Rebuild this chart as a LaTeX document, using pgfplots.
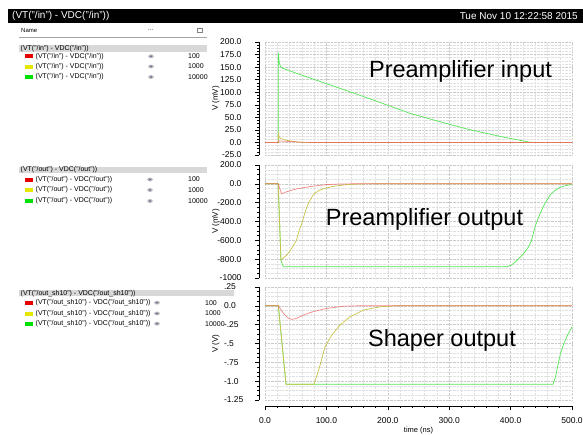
\documentclass[border=0pt]{standalone}
\usepackage{fontspec}
\setmainfont{Liberation Sans}
\usepackage{pgfplots}
\pgfplotsset{compat=1.18}
\definecolor{lred}{RGB}{240,95,95}
\definecolor{lyel}{RGB}{200,195,70}
\definecolor{lgrn}{RGB}{85,230,85}
\definecolor{bred}{RGB}{230,0,0}
\definecolor{byel}{RGB}{230,230,0}
\definecolor{bgrn}{RGB}{0,225,0}
\definecolor{hdr}{RGB}{216,216,216}
\pgfplotsset{
  panel/.style={scale only axis, width=307pt, height=113pt, xmin=0, xmax=500,
    axis y line*=left, axis x line*=bottom,
    axis line style={-, black, line width=0.6pt},
    axis y line shift=6pt,
    xtick={0,100,...,500}, minor x tick num=4,
    grid=both,
    major grid style={gray!42, densely dotted, line width=0.45pt},
    minor grid style={gray!24, densely dotted, line width=0.4pt},
    tick align=outside, major tick length=4pt, minor tick length=2pt,
    tick style={black, line width=0.5pt},
    yticklabel style={font=\fontsize{8.5}{9}\selectfont, xshift=-10pt},
    every axis y label/.style={at={(axis description cs:-0.16,0.5)}, rotate=90, anchor=center, font=\fontsize{8}{9}\selectfont},
  },
  noxaxis/.style={x axis line style={draw=none}, xticklabels={}, xtick style={draw=none}, minor x tick style={draw=none}},
}
\newcommand{\eye}[2]{\fill[gray!55] (#1,#2) ellipse (2.8 and 1.9); \fill[black!30!blue!30!gray] (#1,#2) circle (0.9);}
\newcommand{\row}[6]{% y, boxcolor, text, eyex, numx, num
  \fill[#2] (25,-#1+2) rectangle (33,-#1-2);
  \node[anchor=west, inner sep=0pt, font=\fontsize{7}{8}\selectfont] at (35.5,-#1) {#3};
  \eye{#4}{-#1}
  \node[anchor=west, inner sep=0pt, font=\fontsize{7}{8}\selectfont] at (#5,-#1) {#6};
}
\begin{document}
\begin{tikzpicture}[x=1pt,y=1pt]
\useasboundingbox (0,0) rectangle (583,-434);
\fill[white] (0,0) rectangle (583,-434);
% title bar
\fill[black] (8,-9) rectangle (583,-23);
\node[anchor=west, text=white, inner sep=0pt, font=\fontsize{10}{11}\selectfont] at (12,-16) {(VT("/in") - VDC("/in"))};
\node[anchor=east, text=white, inner sep=0pt, font=\fontsize{10}{11}\selectfont] at (578,-16) {Tue Nov 10 12:22:58 2015};
% list header
\node[anchor=west, inner sep=0pt, font=\fontsize{6}{7}\selectfont] at (21,-30) {Name};
\node[anchor=west, inner sep=0pt, font=\fontsize{6}{7}\selectfont] at (148,-30) {...};
\draw[gray, line width=0.5pt] (197,-28) rectangle (202,-32);
\draw[gray!70, line width=1.2pt] (19,-37.2) -- (207,-37.2);
% section 1
\fill[hdr] (19,-45) rectangle (207,-51.5);
\node[anchor=west, inner sep=0pt, font=\fontsize{7}{8}\selectfont] at (20.5,-48.3) {(VT("/in") - VDC("/in"))};
\row{56.3}{bred}{(VT("/in") - VDC("/in"))}{151}{188}{100}
\row{66.5}{byel}{(VT("/in") - VDC("/in"))}{151}{188}{1000}
\row{77}{bgrn}{(VT("/in") - VDC("/in"))}{151}{188}{10000}
% section 2
\fill[hdr] (19,-166.7) rectangle (207,-172.7);
\node[anchor=west, inner sep=0pt, font=\fontsize{7}{8}\selectfont] at (20.5,-169.8) {(VT("/out") - VDC("/out"))};
\row{179.5}{bred}{(VT("/out") - VDC("/out"))}{150}{188}{100}
\row{190}{byel}{(VT("/out") - VDC("/out"))}{150}{188}{1000}
\row{201}{bgrn}{(VT("/out") - VDC("/out"))}{150}{188}{10000}
% section 3
\fill[hdr] (19,-290) rectangle (234,-296.3);
\node[anchor=west, inner sep=0pt, font=\fontsize{7}{8}\selectfont] at (20.5,-293.2) {(VT("/out\_sh10") - VDC("/out\_sh10"))};
\row{302.7}{bred}{(VT("/out\_sh10") - VDC("/out\_sh10"))}{157}{205}{100}
\row{313.5}{byel}{(VT("/out\_sh10") - VDC("/out\_sh10"))}{157}{205}{1000}
\row{323.7}{bgrn}{(VT("/out\_sh10") - VDC("/out\_sh10"))}{157}{205}{10000}

% panel 1
\begin{axis}[panel, noxaxis, at={(265pt,-155pt)}, anchor=south west,
  ymin=-25, ymax=200, ytick={-25,0,...,200},
  yticklabels={-25.0,0.0,25.0,50.0,75.0,100.0,125.0,150.0,175.0,200.0},
  minor y tick num=3, ylabel={V (mV)}]
\addplot[lgrn, line width=0.7pt] coordinates {(0,0) (21.5,0) (21.7,179) (23,160) (25,152) (28,148) (60,134) (100,117) (150,96) (200,74) (236,58) (274,45) (328,27) (383,12) (431,0.5) (440,0) (500,0)};
\addplot[lyel, line width=0.7pt] coordinates {(0,0) (21.5,0) (21.8,17) (23,11) (25,8.5) (32,5) (46,2) (57,0.3) (70,0) (500,0)};
\addplot[lred, opacity=0.75, line width=0.7pt] coordinates {(0,0) (21.5,0) (22,3) (30,2.5) (45,1.5) (60,0.3) (75,0) (500,0)};
\end{axis}

% panel 2
\begin{axis}[panel, noxaxis, at={(265pt,-278pt)}, anchor=south west,
  ymin=-1000, ymax=200, ytick={-1000,-800,...,200},
  yticklabels={-1000,-800.0,-600.0,-400.0,-200.0,0.0,200.0},
  minor y tick num=3, ylabel={V (mV)}]
\addplot[lgrn, line width=0.7pt] coordinates {(0,0) (21.5,0) (26,-810) (29,-870) (31,-880) (394,-880) (402,-860) (410,-815) (417,-770) (423,-726) (429,-670) (434,-602) (439.6,-461) (444,-380) (447.8,-319) (453,-245) (458.6,-177) (465,-115) (472,-71) (479,-42) (486,-25) (493,-14) (500,-7)};
\addplot[lyel, line width=0.7pt] coordinates {(0,0) (21.5,0) (25.9,-807) (35,-760) (43,-690) (51,-602) (56,-490) (60,-420) (64,-330) (68,-250) (72,-190) (79,-110) (88,-70) (97,-48) (111,-27) (133,-8) (155,-1) (175,0) (500,0)};
\addplot[lred, opacity=0.75, line width=0.7pt] coordinates {(0,0) (21.5,0) (27,-106) (35,-85) (45,-65) (52,-53) (73,-29) (100,-8) (120,-2) (140,0) (500,0)};
\end{axis}

% panel 3
\begin{axis}[panel, at={(265pt,-400pt)}, anchor=south west,
  axis x line shift=6pt,
  ymin=-1.25, ymax=0.25, ytick={-1.25,-1,-0.75,-0.5,-0.25,0,0.25},
  yticklabels={-1.25,-1.0,-.75,-.5,-.25,0.0,.25},
  yticklabel style={anchor=west, xshift=-24.5pt},
  xticklabels={0.0,100.0,200.0,300.0,400.0,500.0},
  xticklabel style={font=\fontsize{8.5}{9}\selectfont, yshift=-4pt},
  minor y tick num=3, ylabel={V (V)},
  xlabel={time (ns)},
  every axis x label/.style={at={(axis description cs:0.5,-0.274)}, anchor=center, font=\fontsize{7.5}{8}\selectfont}]
\addplot[lgrn, line width=0.7pt] coordinates {(0,0) (21.7,0) (34.2,-1.04) (469,-1.04) (473,-0.95) (477.7,-0.765) (481,-0.64) (485.8,-0.52) (490,-0.44) (494,-0.37) (500,-0.28)};
\addplot[lyel, line width=0.7pt] coordinates {(0,0) (21.7,0) (34.2,-1.04) (79.8,-1.04) (84,-0.94) (89.6,-0.79) (97.7,-0.545) (108.6,-0.39) (122,-0.256) (138.4,-0.146) (160,-0.057) (187,-0.013) (210,0) (500,0)};
\addplot[lred, opacity=0.75, line width=0.7pt] coordinates {(0,0) (21.7,0) (25,-0.04) (30,-0.1) (36.5,-0.155) (43.4,-0.18) (50,-0.17) (62.4,-0.124) (73,-0.09) (84,-0.066) (100,-0.035) (127.5,-0.005) (150,0) (500,0)};
\end{axis}

% titles
\node[font=\fontsize{23.5}{26}\selectfont, inner sep=0pt] at (460.5,-71) {Preamplifier input};
\node[font=\fontsize{23.5}{26}\selectfont, inner sep=0pt] at (424.5,-219) {Preamplifier output};
\node[font=\fontsize{23.5}{26}\selectfont, inner sep=0pt] at (442,-340.5) {Shaper output};
\end{tikzpicture}
\end{document}
